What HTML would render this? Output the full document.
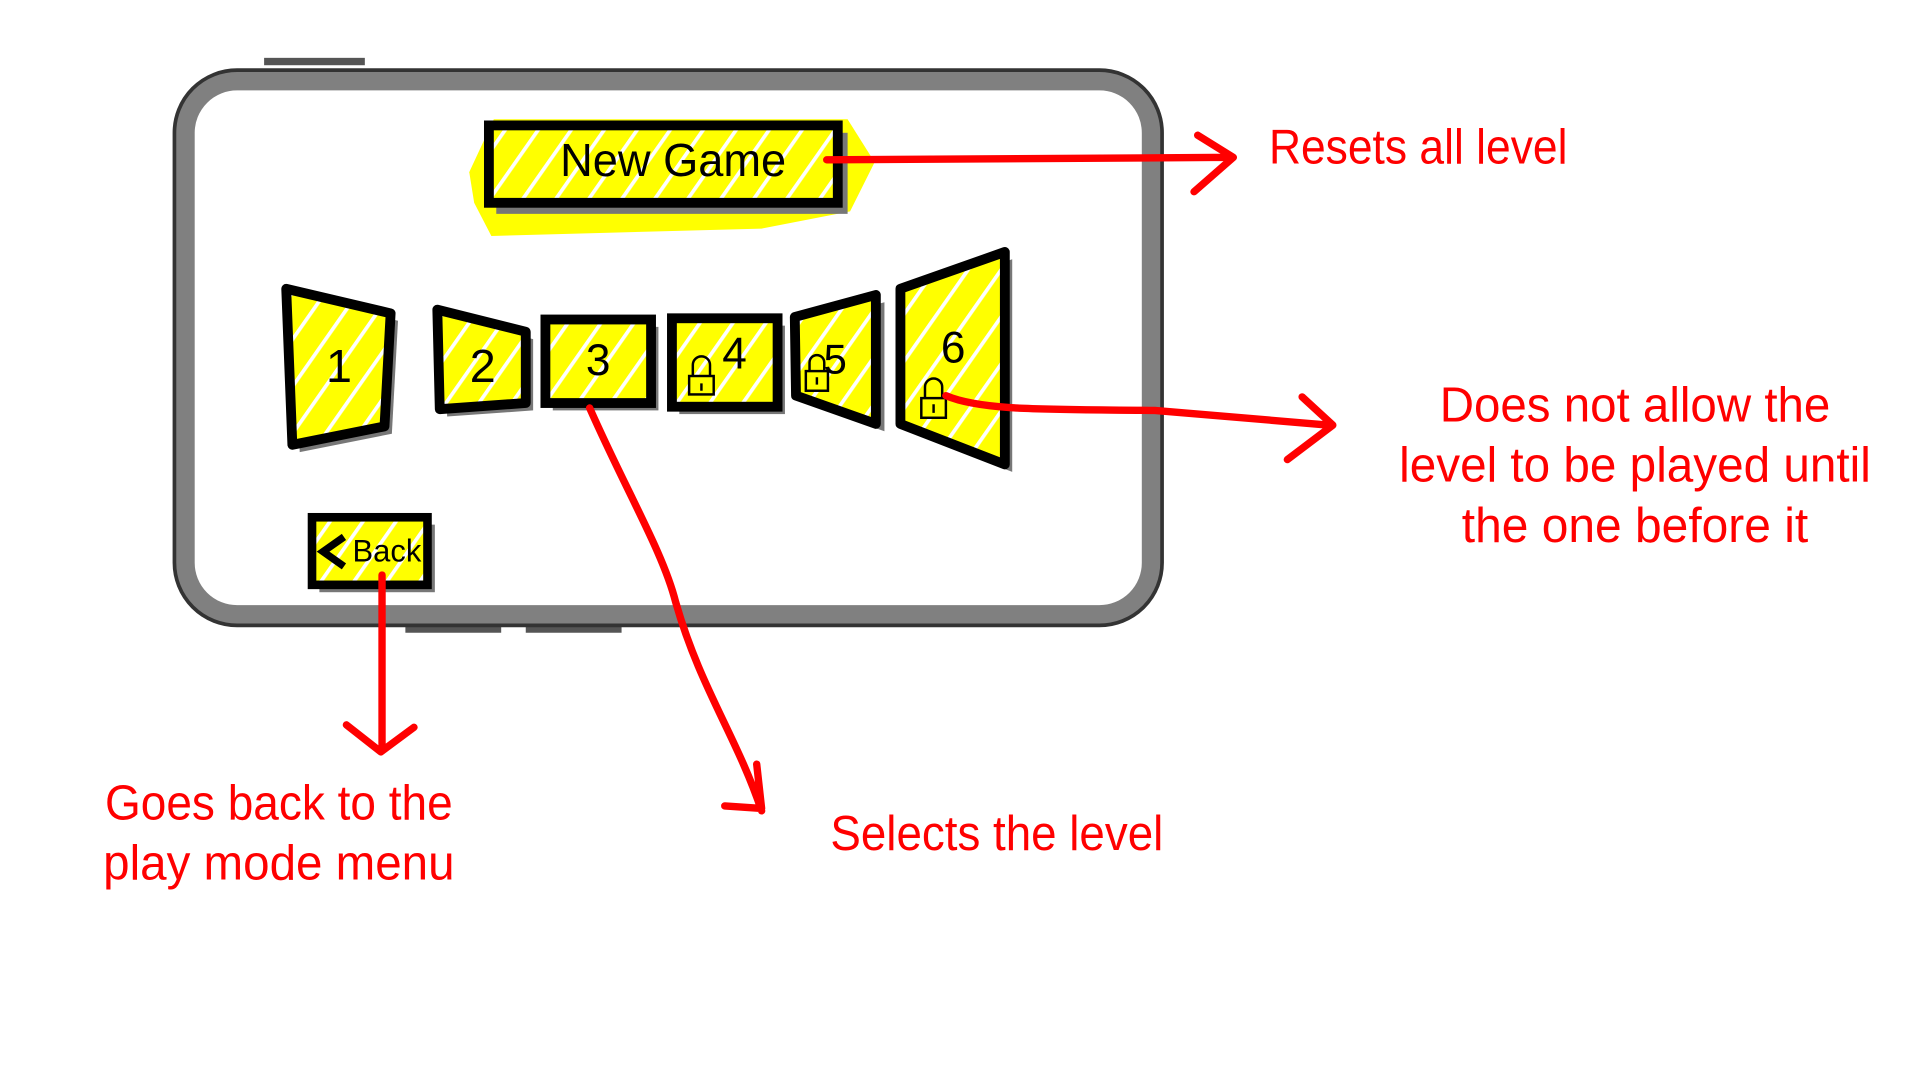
<!DOCTYPE html>
<html><head><meta charset="utf-8"><style>
html,body{margin:0;padding:0;background:#fff;width:1920px;height:1080px;overflow:hidden}
svg{display:block}
text{font-family:"Liberation Sans",sans-serif}
</style></head><body>
<svg width="1920" height="1080" viewBox="0 0 1563 879" xmlns="http://www.w3.org/2000/svg">
<defs>
<pattern id="hatch" width="22" height="22" patternUnits="userSpaceOnUse" patternTransform="rotate(-55)">
<rect width="22" height="22" fill="#ffff00"/>
<rect x="0" y="0" width="22" height="3" fill="#fff"/>
</pattern>
</defs>
<g>
<rect x="215" y="47" width="82" height="6" fill="#555"/>
<rect x="330" y="508" width="78" height="7" fill="#555"/>
<rect x="428" y="508" width="78" height="7" fill="#555"/>
<rect x="151" y="66" width="786" height="434" rx="42" fill="none" stroke="#333" stroke-width="21"/>
<rect x="151" y="66" width="786" height="434" rx="42" fill="#fff" stroke="#808080" stroke-width="15"/>
</g>
<g>
<path d="M382 140 L402 97 L690 97 L712 132 L692 172 L620 186 L400 192 L386 165Z" fill="#ffff00"/>
<rect x="404" y="108" width="286" height="66" fill="#777"/>
<rect x="398" y="102" width="284" height="63" fill="url(#hatch)" stroke="#000" stroke-width="8"/>
<text x="548" y="143" font-size="38" text-anchor="middle" textLength="184" lengthAdjust="spacingAndGlyphs" fill="#000">New Game</text>
</g>
<g>
<polygon points="239,241 324,261 319,353 244,368" fill="#777"/>
<polygon points="233,235 318,255 313,347 238,362" fill="url(#hatch)" stroke="#000" stroke-width="8" stroke-linejoin="round"/>
<text x="276" y="311" font-size="38" text-anchor="middle" fill="#000">1</text>
</g>
<g>
<polygon points="362,258 434,276 434,334 364,339" fill="#777"/>
<polygon points="356,252 428,270 428,328 358,333" fill="url(#hatch)" stroke="#000" stroke-width="8" stroke-linejoin="round"/>
<text x="393" y="311" font-size="38" text-anchor="middle" fill="#000">2</text>
</g>
<g>
<rect x="450" y="266" width="86" height="68" fill="#777"/>
<rect x="444" y="260" width="86" height="68" fill="url(#hatch)" stroke="#000" stroke-width="8"/>
<text x="487" y="305" font-size="36" text-anchor="middle" fill="#000">3</text>
</g>
<g>
<rect x="553" y="265" width="86" height="72" fill="#777"/>
<rect x="547" y="259" width="86" height="72" fill="url(#hatch)" stroke="#000" stroke-width="8"/>
<text x="598" y="300" font-size="36" text-anchor="middle" fill="#000">4</text>
<g fill="none" stroke="#000" stroke-width="2">
<path d="M564 306 v-9 a7 7 0 0 1 14 0 v9"/><rect x="561" y="306" width="20" height="15" fill="#ffff00"/><line x1="571" y1="312" x2="571" y2="318"/>
</g>
</g>
<g>
<polygon points="653,264 720,246 720,351 654,328" fill="#777"/>
<polygon points="647,258 713,240 713,345 648,322" fill="url(#hatch)" stroke="#000" stroke-width="8" stroke-linejoin="round"/>
<text x="680" y="304" font-size="34" text-anchor="middle" fill="#000">5</text>
<g fill="none" stroke="#000" stroke-width="2">
<path d="M659 302 v-7 a6 6 0 0 1 12 0 v7"/><rect x="656" y="302" width="18" height="16" fill="#ffff00"/><line x1="665" y1="307" x2="665" y2="313"/>
</g>
</g>
<g>
<polygon points="739,241 824,211 824,384 739,351" fill="#777"/>
<polygon points="733,235 818,205 818,378 733,345" fill="url(#hatch)" stroke="#000" stroke-width="8" stroke-linejoin="round"/>
<text x="776" y="295" font-size="36" text-anchor="middle" fill="#000">6</text>
<g fill="none" stroke="#000" stroke-width="2">
<path d="M753 324 v-9 a7 7 0 0 1 14 0 v9"/><rect x="750" y="324" width="20" height="16" fill="#ffff00"/><line x1="760" y1="329" x2="760" y2="336"/>
</g>
</g>
<g>
<rect x="260" y="427" width="94" height="55" fill="#777"/>
<rect x="254" y="421" width="94" height="55" fill="url(#hatch)" stroke="#000" stroke-width="7"/>
<path d="M280 437 L263 449 L280 461" fill="none" stroke="#000" stroke-width="6"/>
<text x="315" y="457" font-size="26" text-anchor="middle" textLength="56" lengthAdjust="spacingAndGlyphs" fill="#000">Back</text>
</g>
<g fill="none" stroke="#ff0000" stroke-width="6" stroke-linecap="round" stroke-linejoin="round">
<path d="M673 130 L1002 128 M975 110 L1004 128 L972 156"/>
<path d="M770 322 C800 335 860 333 940 334 L1082 346 M1060 323 L1085 346 L1048 374"/>
<path d="M311 468 L311 610 M282 590 L310 612 L337 592"/>
<path d="M480 332 C510 400 540 450 550 490 C570 560 600 600 620 660 M590 656 L620 658 L616 622"/>
</g>
<g fill="#ff0000" font-size="40">
<text x="1033" y="133" textLength="243" lengthAdjust="spacingAndGlyphs">Resets all level</text>
<text x="1331" y="343" text-anchor="middle" textLength="318" lengthAdjust="spacingAndGlyphs">Does not allow the</text>
<text x="1331" y="392" text-anchor="middle" textLength="384" lengthAdjust="spacingAndGlyphs">level to be played until</text>
<text x="1331" y="441" text-anchor="middle" textLength="282" lengthAdjust="spacingAndGlyphs">the one before it</text>
<text x="227" y="667" text-anchor="middle" textLength="283" lengthAdjust="spacingAndGlyphs">Goes back to the</text>
<text x="227" y="716" text-anchor="middle" textLength="286" lengthAdjust="spacingAndGlyphs">play mode menu</text>
<text x="676" y="692" textLength="271" lengthAdjust="spacingAndGlyphs">Selects the level</text>
</g>
</svg>
</body></html>
